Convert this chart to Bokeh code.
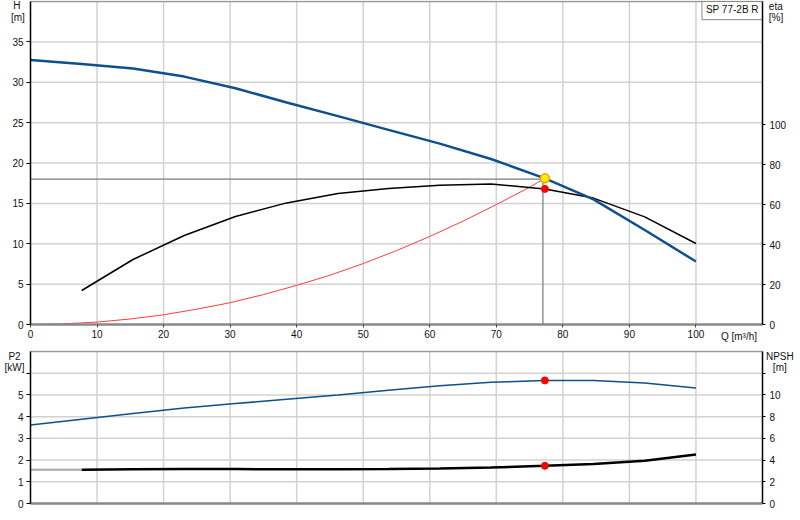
from bokeh.plotting import figure
from bokeh.models import Range1d, LinearAxis, FixedTicker, Label
from bokeh.layouts import column
from bokeh.embed import file_html
from bokeh.resources import INLINE

# ---------------- data ----------------
Q = [0, 7.7, 15.4, 23.1, 30.8, 38.5, 46.2, 53.8, 61.5, 69.2, 77.3, 84.6, 92.3, 100]
H = [32.75, 32.25, 31.7, 30.7, 29.25, 27.5, 25.8, 24.1, 22.4, 20.5, 18.1, 15.5, 11.7, 7.8]
eta_Q = [7.7, 15.4, 23.1, 30.8, 38.5, 46.2, 53.8, 61.5, 69.2, 77.3, 84.6, 92.3, 100]
eta = [17, 32.5, 44.5, 54, 60.8, 65.5, 68, 69.6, 70.2, 67.8, 63.2, 53.8, 40.5]
sys_Q = [0, 5, 10, 15, 20, 25, 30, 35, 40, 45, 50, 55, 60, 65, 70, 75, 77.3]
sys_H = [0, 0.08, 0.3, 0.68, 1.2, 1.9, 2.7, 3.7, 4.85, 6.1, 7.55, 9.15, 10.9, 12.8, 14.85, 17.0, 18.1]
P2 = [3.61, 3.88, 4.15, 4.4, 4.6, 4.8, 5.0, 5.22, 5.42, 5.58, 5.67, 5.67, 5.55, 5.32]
npsh_Q = [7.7, 15.4, 23.1, 30.8, 38.5, 46.2, 53.8, 61.5, 69.2, 77.3, 84.6, 92.3, 100]
npsh = [3.1, 3.15, 3.17, 3.17, 3.15, 3.15, 3.17, 3.22, 3.32, 3.47, 3.63, 3.93, 4.52]
npsh_ext_Q = [0, 7.7]
npsh_ext = [3.1, 3.1]

op_Q, op_H, op_eta, op_P2, op_npsh = 77.3, 18.1, 67.8, 5.67, 3.47
ref_Q, ref_H = 77.0, 18.0

Q_max = 110
H_max = 40
eta_max = 161.5
P2_max = 7
npsh_max = 14

x_ticks = [0, 10, 20, 30, 40, 50, 60, 70, 80, 90, 100]
x_grid = [10, 20, 30, 40, 50, 60, 70, 80, 90, 100]
H_ticks = [0, 5, 10, 15, 20, 25, 30, 35]
eta_ticks = [0, 20, 40, 60, 80, 100]
P2_ticks = [0, 1, 2, 3, 4, 5, 6]
npsh_ticks = [0, 2, 4, 6, 8, 10, 12]

pump_name = "SP 77-2B R"

FONT = "Liberation Sans"
FS = "10px"
TXT = "#111111"
GRID = "#d2d2d2"
BLUE = "#0f4f8c"

# pixel geometry of the frames (whole canvas is the frame; axes sit at fixed data locations)
W = 800
LEFT_PX, RIGHT_PX = 30, 38
xpx = (W - LEFT_PX - RIGHT_PX) / Q_max
x_start = -LEFT_PX / xpx
x_end = Q_max + RIGHT_PX / xpx

H1, TOP1, BOT1 = 346, 1, 22
y1px = (H1 - TOP1 - BOT1) / H_max
H2, TOP2, BOT2 = 174, 5, 17
y2px = (H2 - TOP2 - BOT2) / P2_max


def style_axis(ax, line_color="#000000", line_width=1.5, tick_out=4, standoff=3):
    ax.axis_line_color = line_color
    ax.axis_line_width = line_width
    ax.major_tick_line_color = "#000000"
    ax.major_tick_out = tick_out
    ax.major_tick_in = 0
    ax.minor_tick_line_color = None
    ax.major_label_text_font = FONT
    ax.major_label_text_font_size = FS
    ax.major_label_text_color = TXT
    ax.major_label_standoff = standoff


def add_label(p, x, y, text, align="left", baseline="middle", y_range_name="default"):
    p.add_layout(Label(x=x, y=y, text=text, text_font=FONT, text_font_size=FS,
                       text_color=TXT, text_align=align, text_baseline=baseline,
                       y_range_name=y_range_name))


def add_grid(p, ymax, yticks):
    n = len(x_grid)
    p.segment(x0=x_grid, y0=[0] * n, x1=x_grid, y1=[ymax] * n, line_color=GRID, line_width=1.5)
    m = len(yticks)
    p.segment(x0=[0] * m, y0=yticks, x1=[Q_max] * m, y1=yticks, line_color=GRID, line_width=1.5)
    # frame top border
    p.segment(x0=[0], y0=[ymax], x1=[Q_max], y1=[ymax], line_color="#999999", line_width=1.5)


def make_fig(height, top, bot, ypx, ymax):
    p = figure(width=W, height=height,
               x_range=Range1d(x_start, x_end),
               y_range=Range1d(-bot / ypx, ymax + top / ypx),
               output_backend="svg", toolbar_location=None,
               x_axis_type=None, y_axis_type=None,
               min_border_left=0, min_border_right=0, min_border_top=0, min_border_bottom=0)
    p.outline_line_color = None
    p.background_fill_color = "white"
    p.border_fill_color = "white"
    return p


# ---------------- top panel ----------------
p1 = make_fig(H1, TOP1, BOT1, y1px, H_max)
eta_px = (H1 - TOP1 - BOT1) / eta_max
p1.extra_y_ranges = {"eta": Range1d(-BOT1 / eta_px, eta_max + TOP1 / eta_px)}
add_grid(p1, H_max, H_ticks[1:])

axl = LinearAxis(ticker=FixedTicker(ticks=H_ticks), fixed_location=0, bounds=(0, H_max))
style_axis(axl)
p1.add_layout(axl, "left")
axr = LinearAxis(ticker=FixedTicker(ticks=eta_ticks), y_range_name="eta",
                 fixed_location=Q_max, bounds=(0, eta_max))
style_axis(axr, tick_out=3, standoff=4)
p1.add_layout(axr, "right")
axb = LinearAxis(ticker=FixedTicker(ticks=x_ticks), fixed_location=0, bounds=(0, Q_max))
style_axis(axb, line_color="#888888", line_width=2.5, tick_out=3, standoff=2)
axb.major_tick_line_color = "#444444"
p1.add_layout(axb, "below")

p1.line(sys_Q, sys_H, line_color="#ff3c3c", line_width=1)
p1.line([0, op_Q], [ref_H, ref_H], line_color="#7a7a7a", line_width=1.2)
p1.line([ref_Q, ref_Q], [0, ref_H], line_color="#7a7a7a", line_width=1.2)
p1.line(eta_Q, eta, line_color="#000000", line_width=1.5, y_range_name="eta")
p1.line(Q, H, line_color=BLUE, line_width=2.5)
p1.scatter([op_Q], [op_eta], size=7, fill_color="#ff0000", line_color="#ff0000", y_range_name="eta")
p1.scatter([op_Q], [op_H], size=9, fill_color="#ffee00", line_color="#ff9900", line_width=1.5)

# name box
p1.quad(left=[100.9], right=[Q_max], top=[H_max], bottom=[37.75], fill_color="white",
        line_color="#8a8a8a", line_width=1)
add_label(p1, 101.5, 39.0, pump_name)

add_label(p1, -2.06, 39.45, "H", align="center")
add_label(p1, -1.9, 38.0, "[m]", align="center")
add_label(p1, 110.95, 39.4, "eta")
add_label(p1, 110.95, 38.0, "[%]")
add_label(p1, 103.75, -1.45, "Q [m³/h]")

# ---------------- bottom panel ----------------
p2 = make_fig(H2, TOP2, BOT2, y2px, P2_max)
npsh_px = (H2 - TOP2 - BOT2) / npsh_max
p2.extra_y_ranges = {"npsh": Range1d(-BOT2 / npsh_px, npsh_max + TOP2 / npsh_px)}
add_grid(p2, P2_max, P2_ticks[1:])

bl = LinearAxis(ticker=FixedTicker(ticks=P2_ticks), major_label_overrides={6: ""},
                fixed_location=0, bounds=(0, P2_max))
style_axis(bl)
p2.add_layout(bl, "left")
br = LinearAxis(ticker=FixedTicker(ticks=npsh_ticks), y_range_name="npsh",
                major_label_overrides={12: ""}, fixed_location=Q_max, bounds=(0, npsh_max))
style_axis(br, tick_out=3, standoff=4)
p2.add_layout(br, "right")
bb = LinearAxis(ticker=FixedTicker(ticks=[]), fixed_location=0, bounds=(0, Q_max))
style_axis(bb, line_color="#888888", line_width=2.5, tick_out=0, standoff=0)
p2.add_layout(bb, "below")

p2.line(Q, P2, line_color=BLUE, line_width=1.5)
p2.line(npsh_ext_Q, npsh_ext, line_color="#b4b4b4", line_width=2.5, y_range_name="npsh")
p2.line(npsh_Q, npsh, line_color="#000000", line_width=2.5, y_range_name="npsh")
p2.scatter([op_Q], [op_P2], size=7, fill_color="#ff0000", line_color="#ff0000")
p2.scatter([op_Q], [op_npsh], size=7, fill_color="#ff0000", line_color="#ff0000", y_range_name="npsh")

add_label(p2, -2.4, 6.79, "P2", align="center")
add_label(p2, -2.4, 6.26, "[kW]", align="center")
add_label(p2, 112.6, 13.58, "NPSH", align="center", y_range_name="npsh")
add_label(p2, 112.6, 12.52, "[m]", align="center", y_range_name="npsh")

layout = column(p1, p2, spacing=0, margin=(0, 0, 0, 0))

open("out.html", "w").write(file_html(layout, INLINE))
